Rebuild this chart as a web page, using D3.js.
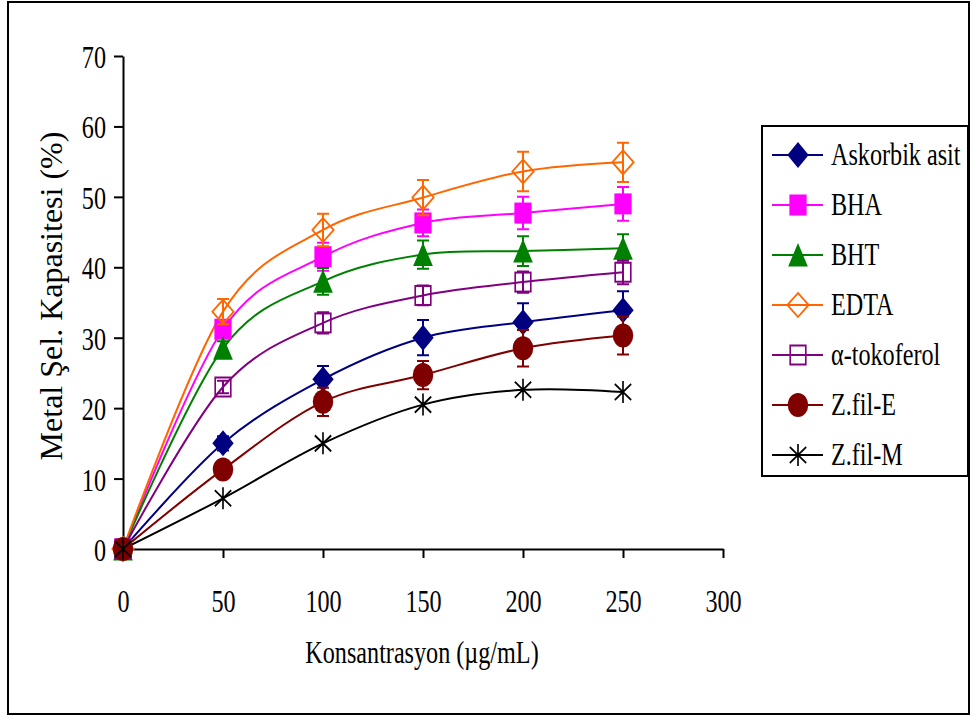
<!DOCTYPE html>
<html>
<head>
<meta charset="utf-8">
<script src="https://cdn.jsdelivr.net/npm/d3@7/dist/d3.min.js"></script>
<style>
  html, body { margin: 0; padding: 0; background: #fff; }
  svg { display: block; }
  text { font-family: "Liberation Serif", "Times New Roman", serif; fill: #000; }
</style>
</head>
<body>
<svg id="chart" width="973" height="717"></svg>
<script>
// Concentrations (µg/mL)
const concentrations = [0, 50, 100, 150, 200, 250];

// Metal chelating capacity (%) per sample
const askorbik   = [0, 15.0, 24.1, 30.0, 32.2, 33.9];
const bha        = [0, 31.2, 41.5, 46.3, 47.7, 49.0];
const bht        = [0, 28.5, 38.0, 41.8, 42.3, 42.7];
const edta       = [0, 33.7, 45.3, 49.9, 53.6, 54.9];
const tokoferol  = [0, 23.0, 32.1, 36.0, 37.9, 39.3];
const zfilE      = [0, 11.3, 20.9, 24.7, 28.5, 30.3];
const zfilM      = [0, 7.2, 15.0, 20.5, 22.6, 22.3];

// Standard deviations
const askorbikErr  = [0, 1.0, 1.9, 2.5, 2.7, 2.7];
const bhaErr       = [0, 1.0, 2.0, 1.9, 2.3, 2.4];
const bhtErr       = [0, 1.0, 1.9, 2.0, 2.1, 2.0];
const edtaErr      = [0, 1.8, 2.3, 2.5, 2.8, 2.8];
const tokoferolErr = [0, 0.9, 1.5, 1.4, 1.5, 1.7];
const zfilEErr     = [0, 1.0, 2.0, 2.0, 2.6, 2.7];
const zfilMErr     = [0, 0, 0, 0, 0, 0];

const seriesNames = ["Askorbik asit", "BHA", "BHT", "EDTA", "α-tokoferol", "Z.fil-E", "Z.fil-M"];
const xTicks = [0, 50, 100, 150, 200, 250, 300];
const yTicks = [0, 10, 20, 30, 40, 50, 60, 70];

const xTitle = "Konsantrasyon (µg/mL)";
const yTitle = "Metal Şel. Kapasitesi (%)";

const series = [
  { name: seriesNames[0], values: askorbik,  err: askorbikErr,  color: "#000080", marker: "diamond" },
  { name: seriesNames[1], values: bha,       err: bhaErr,       color: "#FF00FF", marker: "square" },
  { name: seriesNames[2], values: bht,       err: bhtErr,       color: "#008000", marker: "triangle" },
  { name: seriesNames[3], values: edta,      err: edtaErr,      color: "#FF6600", marker: "diamondOpen" },
  { name: seriesNames[4], values: tokoferol, err: tokoferolErr, color: "#800080", marker: "squareOpen" },
  { name: seriesNames[5], values: zfilE,     err: zfilEErr,     color: "#800000", marker: "circle" },
  { name: seriesNames[6], values: zfilM,     err: zfilMErr,     color: "#000000", marker: "star" }
];

const svg = d3.select("#chart");
const SQ = 0.78;       // horizontal condensing of the serif labels
const FONT = 31;

// Outer frame
svg.append("rect")
  .attr("x", 8).attr("y", 2).attr("width", 961).attr("height", 712)
  .attr("fill", "#fff").attr("stroke", "#000").attr("stroke-width", 2);

const x = d3.scaleLinear().domain([0, 300]).range([123, 723]);
const y = d3.scaleLinear().domain([0, 70]).range([549, 56]);

// Axes
const yAxis = svg.append("g")
  .attr("transform", `translate(${x(0)},0)`)
  .call(d3.axisLeft(y).tickValues(yTicks).tickSize(9).tickSizeOuter(0).tickFormat(d3.format("d")));
const xAxis = svg.append("g")
  .attr("transform", `translate(0,${y(0)})`)
  .call(d3.axisBottom(x).tickValues(xTicks).tickSize(9).tickSizeOuter(0).tickFormat(d3.format("d")));

[xAxis, yAxis].forEach(g => {
  g.select(".domain").attr("stroke", "#000").attr("stroke-width", 2);
  g.selectAll(".tick line").attr("stroke", "#000").attr("stroke-width", 2);
  g.selectAll(".tick text")
    .style("font-family", '"Liberation Serif", serif')
    .attr("font-size", FONT).attr("fill", "#000");
});
yAxis.selectAll(".tick text")
  .attr("x", -17 / SQ).attr("dy", "0.37em")
  .attr("transform", `scale(${SQ},1)`);
xAxis.selectAll(".tick text")
  .attr("y", 63).attr("dy", 0)
  .attr("transform", `scale(${SQ},1)`);

// Axis titles
svg.append("text")
  .attr("transform", `translate(422,663) scale(${SQ},1)`)
  .attr("text-anchor", "middle")
  .attr("font-size", FONT)
  .text(xTitle);

svg.append("text")
  .attr("transform", "translate(62,296) rotate(-90)")
  .attr("text-anchor", "middle")
  .attr("font-size", 32)
  .text(yTitle);

// Markers
function drawMarker(g, type, color) {
  const m = g.append("g").attr("class", "marker");
  const s = m.append("g").attr("transform", "scale(0.82,1)");
  switch (type) {
    case "diamond":
      s.append("path").attr("d", "M0,-13L13,0L0,13L-13,0Z").attr("fill", color);
      break;
    case "diamondOpen":
      s.append("path").attr("d", "M0,-12L13,0L0,12L-13,0Z")
        .attr("fill", "none").attr("stroke", color).attr("stroke-width", 2);
      break;
    case "square":
      s.append("rect").attr("x", -10.5).attr("y", -10.5).attr("width", 21).attr("height", 21).attr("fill", color);
      break;
    case "squareOpen":
      s.append("rect").attr("x", -9.5).attr("y", -9.5).attr("width", 19).attr("height", 19)
        .attr("fill", "none").attr("stroke", color).attr("stroke-width", 2);
      break;
    case "triangle":
      s.append("path").attr("d", "M0,-12L12,11.5L-12,11.5Z").attr("fill", color);
      break;
    case "circle":
      s.append("ellipse").attr("rx", 12.5).attr("ry", 12).attr("fill", color);
      break;
    case "star":
      s.append("path").attr("d", "M0,-11V11M-10,-8L10,8M-10,8L10,-8")
        .attr("stroke", color).attr("stroke-width", 2).attr("fill", "none");
      break;
  }
  return m;
}

const line = d3.line()
  .x((d, i) => x(concentrations[i]))
  .y(d => y(d))
  .curve(d3.curveCatmullRom.alpha(0));

const plot = svg.append("g");

// Smoothed lines
series.forEach(s => {
  plot.append("path")
    .attr("d", line(s.values))
    .attr("fill", "none")
    .attr("stroke", s.color)
    .attr("stroke-width", 2);
});

// Error bars and markers, series by series
series.forEach(s => {
  const g = plot.append("g");
  s.values.forEach((v, i) => {
    const e = s.err[i];
    if (e > 0) {
      const cx = x(concentrations[i]);
      const y1 = y(v + e), y2 = y(v - e);
      g.append("path")
        .attr("d", `M${cx},${y1}V${y2}M${cx - 6},${y1}H${cx + 6}M${cx - 6},${y2}H${cx + 6}`)
        .attr("stroke", s.color).attr("stroke-width", 2).attr("fill", "none");
    }
  });
  s.values.forEach((v, i) => {
    drawMarker(g, s.marker, s.color)
      .attr("transform", `translate(${x(concentrations[i])},${y(v)})`);
  });
});

// Legend
const legend = svg.append("g");
legend.append("rect")
  .attr("x", 762).attr("y", 126).attr("width", 206).attr("height", 350)
  .attr("fill", "#fff").attr("stroke", "#000").attr("stroke-width", 2);

series.forEach((s, i) => {
  const cy = 155 + i * 50;
  const row = legend.append("g");
  row.append("line")
    .attr("x1", 772).attr("x2", 823).attr("y1", cy).attr("y2", cy)
    .attr("stroke", s.color).attr("stroke-width", 2);
  drawMarker(row, s.marker, s.color).attr("transform", `translate(798,${cy})`);
  row.append("text")
    .attr("transform", `translate(831,${cy + 10}) scale(${SQ},1)`)
    .attr("font-size", FONT)
    .text(s.name);
});
</script>
</body>
</html>
